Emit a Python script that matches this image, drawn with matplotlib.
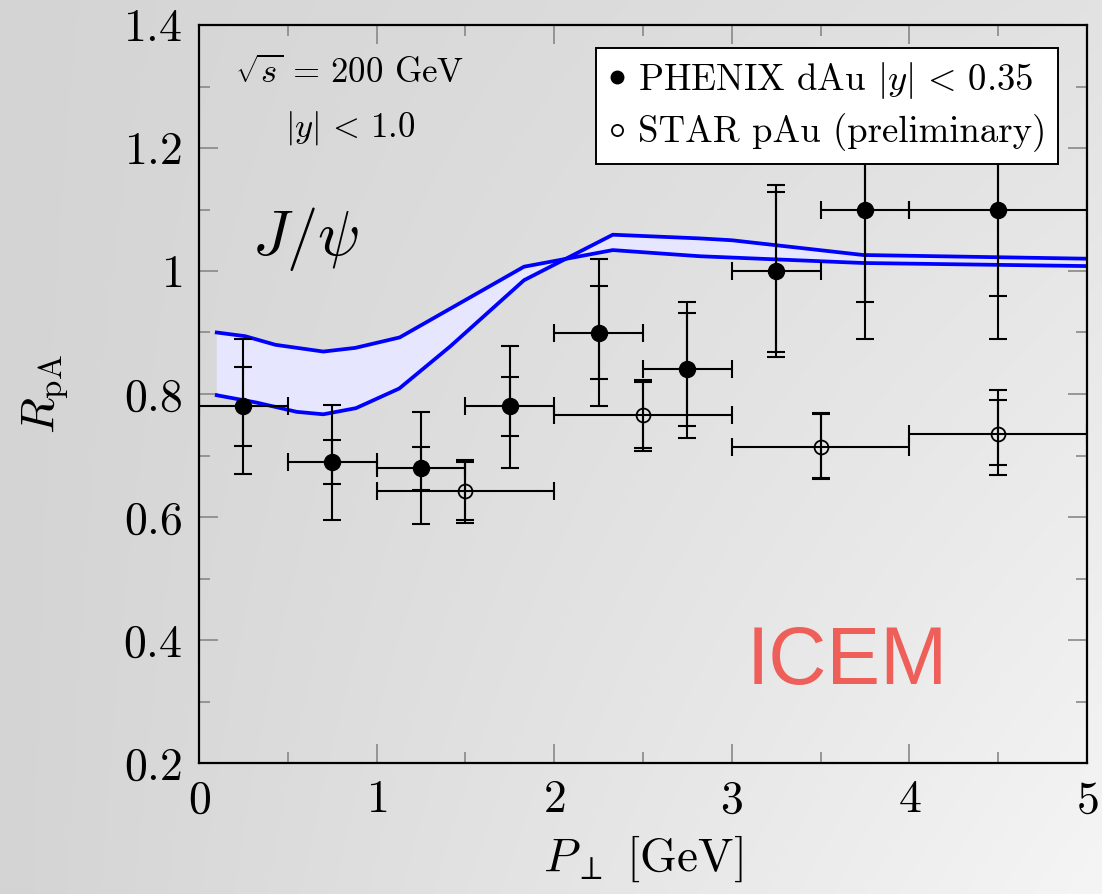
import numpy as np
import matplotlib
matplotlib.use('Agg')
import matplotlib.pyplot as plt
from matplotlib.lines import Line2D

plt.rcParams['mathtext.fontset'] = 'cm'
plt.rcParams['font.family'] = 'cmr10'
plt.rcParams['axes.unicode_minus'] = False

# ---- ICEM band (two edges of the band)
bandA_x = [0.1, 0.26, 0.43, 0.70, 0.88, 1.13, 1.83, 2.33, 2.82, 3.74, 5.0]
bandA_y = [0.900, 0.894, 0.880, 0.869, 0.875, 0.892, 1.007, 1.034, 1.024, 1.013, 1.008]
bandB_x = [0.1, 0.325, 0.55, 0.70, 0.884, 1.128, 1.413, 1.83, 2.33, 2.82, 3.0, 3.74, 5.0]
bandB_y = [0.798, 0.786, 0.771, 0.767, 0.777, 0.809, 0.877, 0.985, 1.059, 1.053, 1.050, 1.026, 1.020]

# ---- PHENIX dAu
phx_x = np.array([0.25, 0.75, 1.25, 1.75, 2.25, 2.75, 3.25, 3.75, 4.5])
phx_y = np.array([0.78, 0.69, 0.68, 0.78, 0.90, 0.84, 1.00, 1.10, 1.10])
phx_xerr = np.array([0.25, 0.25, 0.25, 0.25, 0.25, 0.25, 0.25, 0.25, 0.5])
phx_stat_lo = np.array([0.065, 0.036, 0.036, 0.048, 0.076, 0.092, 0.131, 0.15, 0.14])
phx_stat_hi = np.array([0.064, 0.035, 0.034, 0.048, 0.076, 0.092, 0.129, 0.15, 0.14])
phx_tot_lo = np.array([0.110, 0.095, 0.092, 0.101, 0.120, 0.111, 0.140, 0.21, 0.21])
phx_tot_hi = np.array([0.110, 0.092, 0.091, 0.098, 0.119, 0.109, 0.140, 0.21, 0.21])

# ---- STAR pAu (preliminary)
star_x = np.array([1.5, 2.5, 3.5, 4.5])
star_y = np.array([0.643, 0.766, 0.714, 0.735])
star_xerr = np.array([0.5, 0.5, 0.5, 0.5])
star_stat_lo = np.array([0.048, 0.054, 0.050, 0.051])
star_stat_hi = np.array([0.047, 0.054, 0.053, 0.056])
star_tot_lo = np.array([0.052, 0.058, 0.053, 0.067])
star_tot_hi = np.array([0.050, 0.057, 0.055, 0.071])

xticks = [0, 1, 2, 3, 4, 5]
yticks = [0.2, 0.4, 0.6, 0.8, 1.0, 1.2, 1.4]
yticklabels = ['0.2', '0.4', '0.6', '0.8', '1', '1.2', '1.4']

fig = plt.figure(figsize=(11.02, 8.94), dpi=100)

# gray gradient background
bg = fig.add_axes([0, 0, 1, 1], zorder=-10)
u = np.linspace(0, 1, 300)
v = np.linspace(0, 1, 300)
U, V = np.meshgrid(u, v)
G = (212 + 14*U + 19*U*V) / 255.0
bg.imshow(np.dstack([G, G, G]), extent=[0, 1, 0, 1], origin='upper', aspect='auto')
bg.axis('off')

ax = fig.add_axes([199/1102, 1-763/894, 888/1102, 738/894])
ax.patch.set_alpha(0)

# band
poly_x = list(bandA_x) + list(bandB_x[::-1])
poly_y = list(bandA_y) + list(bandB_y[::-1])
ax.fill(poly_x, poly_y, color='#E6E6FF', lw=0, zorder=1)
ax.plot(bandA_x, bandA_y, color='#0000FF', lw=2.7, zorder=2)
ax.plot(bandB_x, bandB_y, color='#0000FF', lw=2.7, zorder=2)

ekw = dict(ecolor='black', elinewidth=1.5, capsize=6.5, capthick=1.5, ls='none', zorder=3)
# PHENIX
ax.errorbar(phx_x, phx_y, xerr=phx_xerr, yerr=[phx_tot_lo, phx_tot_hi], fmt='none', **ekw)
ax.errorbar(phx_x, phx_y, yerr=[phx_stat_lo, phx_stat_hi], fmt='none', **ekw)
ax.plot(phx_x, phx_y, 'o', color='black', ms=11.5, ls='none', zorder=4)
# STAR
ax.errorbar(star_x, star_y, xerr=star_xerr, yerr=[star_tot_lo, star_tot_hi], fmt='none', **ekw)
ax.errorbar(star_x, star_y, yerr=[star_stat_lo, star_stat_hi], fmt='none', **ekw)
ax.plot(star_x, star_y, 'o', mfc='none', mec='black', mew=1.3, ms=10, ls='none', zorder=4)

ax.set_xlim(0, 5)
ax.set_ylim(0.2, 1.4)
ax.set_xticks(xticks)
ax.set_xticklabels(['$%d$' % t for t in xticks], fontsize=33)
ax.set_yticks(yticks)
ax.set_yticklabels(['$%s$' % t for t in yticklabels], fontsize=33)
ax.set_xticks(np.arange(0.5, 5, 1.0), minor=True)
ax.set_yticks(np.arange(0.3, 1.4, 0.2), minor=True)
ax.tick_params(which='both', direction='in', top=True, right=True, color='#888888', width=1.2)
ax.tick_params(which='major', length=14, pad=12)
ax.tick_params(which='minor', length=8)
for s in ax.spines.values():
    s.set_linewidth(1.6)

ax.set_xlabel(r'$P_\perp$ [GeV]', fontsize=34, labelpad=9)
ax.set_ylabel(r'$R_{\mathrm{pA}}$', fontsize=34, labelpad=38)

ax.text(0.17, 0.935, r'$\sqrt{s}\,=\,200$ GeV', transform=ax.transAxes, fontsize=25, ha='center', va='center')
ax.text(0.17, 0.86, r'$|y|\,<\,1.0$', transform=ax.transAxes, fontsize=25, ha='center', va='center')
ax.text(0.12, 0.71, r'$J/\psi$', transform=ax.transAxes, fontsize=45, ha='center', va='center')
ax.text(0.73, 0.135, 'ICEM', transform=ax.transAxes, fontsize=58, ha='center', va='center',
        color='#EE5F59', family='Liberation Sans')

handles = [Line2D([], [], marker='o', color='black', ls='none', ms=9),
           Line2D([], [], marker='o', mfc='none', mec='black', mew=1.3, ls='none', ms=8)]
labels = [r'PHENIX dAu $|y|\,<\,0.35$', 'STAR pAu (preliminary)']
leg = ax.legend(handles, labels, loc='upper right', bbox_to_anchor=(0.967, 0.969),
                borderaxespad=0, fontsize=26.5, handlelength=0.5, handletextpad=0.3,
                frameon=True, fancybox=False, edgecolor='black', framealpha=1,
                borderpad=0.32, labelspacing=0.35)
leg.get_frame().set_linewidth(1.4)

fig.savefig('out.png', dpi=100)
